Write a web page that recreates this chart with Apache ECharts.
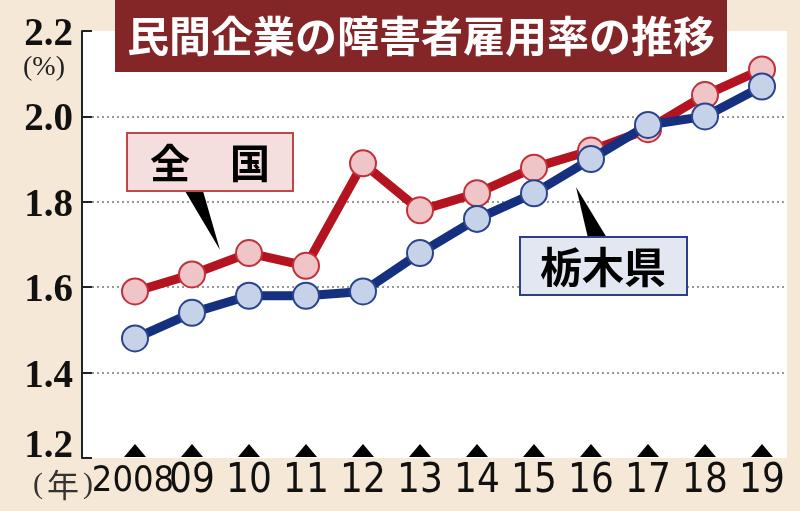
<!DOCTYPE html>
<html>
<head>
<meta charset="utf-8">
<script src="https://cdn.jsdelivr.net/npm/echarts@6/dist/echarts.min.js"></script>
<style>
html,body{margin:0;padding:0;background:#f5e8d6;}
#chart{width:800px;height:511px;}
</style>
</head>
<body>
<div id="chart"></div>
<script>
// ---- data ----
var titleText = '民間企業の障害者雇用率の推移';
var years = ['2008','09','10','11','12','13','14','15','16','17','18','19'];
var nationalName = '全国';
var nationalLabel = '全　国';
var national = [1.59, 1.63, 1.68, 1.65, 1.89, 1.78, 1.82, 1.88, 1.92, 1.97, 2.05, 2.11];
var tochigiName = '栃木県';
var tochigi = [1.48, 1.54, 1.58, 1.58, 1.59, 1.68, 1.76, 1.82, 1.90, 1.98, 2.00, 2.07];
var yMin = 1.2, yMax = 2.2, yStep = 0.2;
var yUnit = '(%)';
var xUnitParts = ['(', '年', ')'];

var triSvg = '<svg xmlns="http://www.w3.org/2000/svg" width="22" height="13"><polygon points="11,0 22,13 0,13" fill="black"/></svg>';
var triURL = 'data:image/svg+xml;charset=utf-8,' + encodeURIComponent(triSvg);

var chart = echarts.init(document.getElementById('chart'), null, {renderer: 'canvas'});

var RED = '#b3141f', RED_FILL = '#efc5c8', RED_BORDER = '#c2313a';
var BLUE = '#15307e', BLUE_FILL = '#c6d2e8', BLUE_BORDER = '#2a448f';
var XFONT = '"Liberation Sans Narrow", "DejaVu Sans Condensed", "Liberation Sans", sans-serif';

var option = {
  backgroundColor: '#f5e8d6',
  animation: false,
  title: {
    text: titleText,
    left: 115,
    top: 0,
    backgroundColor: '#842627',
    padding: [10, 12, 10, 12],
    textStyle: {
      color: '#ffffff',
      fontSize: 42,
      lineHeight: 52,
      fontWeight: 'bold',
      fontFamily: '"Noto Sans CJK JP", sans-serif'
    }
  },
  grid: [
    {left: 82, right: 13, top: 31, bottom: 53, show: true, backgroundColor: '#ffffff', borderWidth: 0},
    {left: 106.5, right: 9.5, top: 31, bottom: 53, show: false}
  ],
  xAxis: [
    {gridIndex: 0, type: 'value', min: 0, max: 1, show: false},
    {
      gridIndex: 1, type: 'category', data: years, boundaryGap: true,
      axisLine: {show: false}, axisTick: {show: false}, splitLine: {show: false},
      axisLabel: {
        interval: 0, margin: -14, hideOverlap: false,
        formatter: function (v) {
          return '{tri| }\n{' + (v.length > 2 ? 'yr4' : 'yr') + '|' + v + '}';
        },
        rich: {
          tri: {width: 22, height: 13, lineHeight: 13, backgroundColor: {image: triURL}},
          yr: {fontSize: 40, lineHeight: 50, color: '#111', fontFamily: XFONT},
          yr4: {fontSize: 36, lineHeight: 50, color: '#111', fontFamily: XFONT, padding: [0, 4, 0, 0]}
        }
      }
    }
  ],
  yAxis: [
    {
      gridIndex: 0, type: 'value', min: yMin, max: yMax, interval: yStep,
      axisLine: {show: true, lineStyle: {color: '#222', width: 2}},
      axisTick: {show: true, inside: true, length: 10, lineStyle: {color: '#222', width: 2}},
      splitLine: {show: true, showMinLine: false, showMaxLine: false,
                  lineStyle: {color: '#777', type: [2, 3], width: 1.5}},
      axisLabel: {
        margin: 9,
        formatter: function (v) {
          var s = v.toFixed(1);
          if (Math.abs(v - yMin) < 1e-6) return '{lo|' + s + '}';
          return '{n|' + s + '}';
        },
        rich: {
          n: {fontSize: 39, fontWeight: 'bold', color: '#111', fontFamily: '"Liberation Serif", serif', padding: [8, 0, 0, 0]},
          lo: {fontSize: 39, fontWeight: 'bold', color: '#111', fontFamily: '"Liberation Serif", serif', padding: [0, 0, 22, 0]}
        }
      }
    },
    {gridIndex: 1, type: 'value', min: yMin, max: yMax, interval: yStep, show: false}
  ],
  series: [
    {
      name: nationalName, type: 'line', xAxisIndex: 1, yAxisIndex: 1,
      data: national, symbol: 'circle', symbolSize: 26,
      lineStyle: {color: RED, width: 9},
      itemStyle: {color: RED_FILL, borderColor: RED_BORDER, borderWidth: 2},
      z: 3
    },
    {
      name: tochigiName, type: 'line', xAxisIndex: 1, yAxisIndex: 1,
      data: tochigi, symbol: 'circle', symbolSize: 26,
      lineStyle: {color: BLUE, width: 9},
      itemStyle: {color: BLUE_FILL, borderColor: BLUE_BORDER, borderWidth: 2},
      z: 4
    }
  ],
  graphic: [
    {
      type: 'text', left: 23, top: 54, z: 10,
      style: {text: yUnit, fontSize: 28, fill: '#222', fontFamily: '"Liberation Serif", serif'}
    },
    {
      type: 'text', z: 10, x: 63, y: 485,
      style: {
        text: '{p|' + xUnitParts[0] + '}{k|' + xUnitParts[1] + '}{p|' + xUnitParts[2] + '}',
        align: 'center', verticalAlign: 'middle',
        rich: {
          p: {fontSize: 30, fill: '#333', fontFamily: '"Liberation Serif", serif'},
          k: {fontSize: 32, fill: '#333', fontFamily: '"Noto Sans CJK JP", sans-serif', padding: [0, 4, 0, 4]}
        }
      }
    },
    // 全国 callout
    {type: 'polygon', z: 10, shape: {points: [[185, 191], [203, 191], [220, 250]]}, style: {fill: '#000'}},
    {type: 'rect', z: 11, shape: {x: 127, y: 133, width: 166, height: 58},
     style: {fill: '#f4dede', stroke: '#c0464a', lineWidth: 2}},
    {type: 'text', z: 12, x: 210, y: 163,
     style: {text: nationalLabel, fontSize: 40, fontWeight: 'bold', fill: '#000',
             align: 'center', verticalAlign: 'middle', fontFamily: '"Noto Sans CJK JP", sans-serif'}},
    // 栃木県 callout
    {type: 'polygon', z: 10, shape: {points: [[576, 187], [588, 238], [607, 238]]}, style: {fill: '#000'}},
    {type: 'rect', z: 11, shape: {x: 520, y: 237, width: 167, height: 58},
     style: {fill: '#e3e7f1', stroke: '#2d3f88', lineWidth: 2}},
    {type: 'text', z: 12, x: 603, y: 267,
     style: {text: tochigiName, fontSize: 42, fontWeight: 'bold', fill: '#000',
             align: 'center', verticalAlign: 'middle', fontFamily: '"Noto Sans CJK JP", sans-serif'}}
  ]
};
chart.setOption(option);
</script>
</body>
</html>
